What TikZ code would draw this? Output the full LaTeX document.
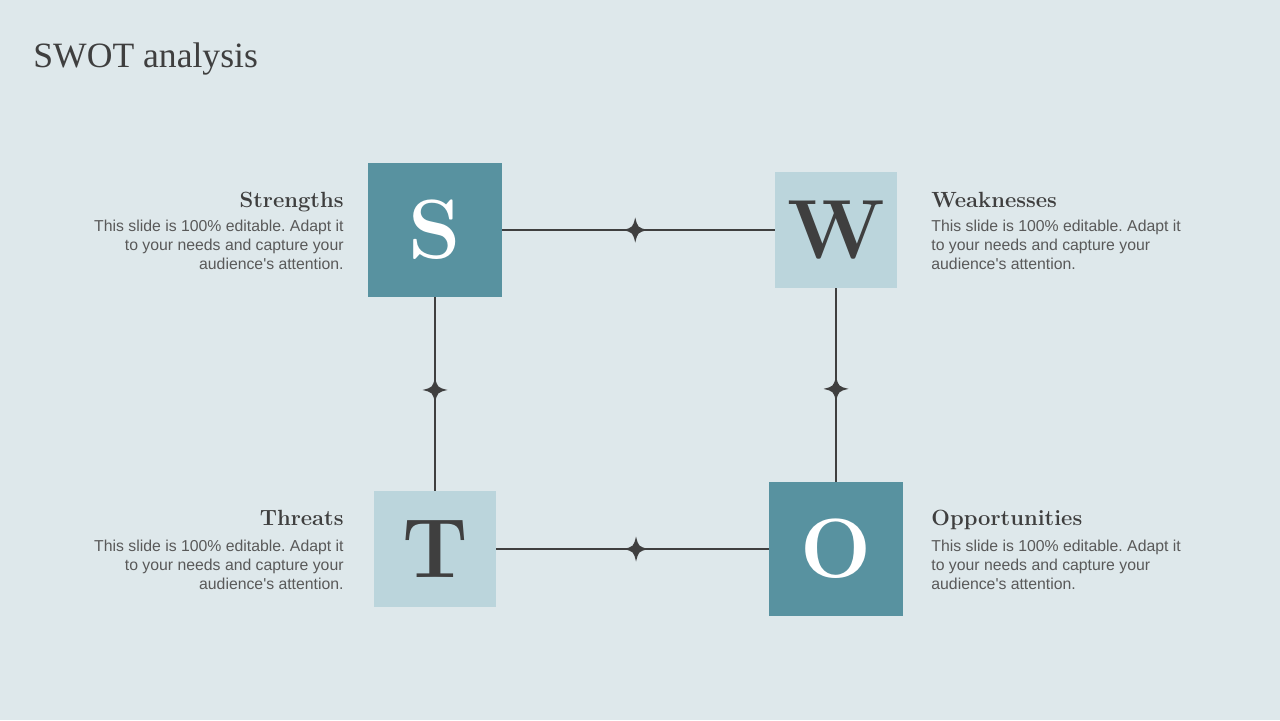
\documentclass[tikz,border=0pt]{standalone}
\usepackage{fontspec}
\setsansfont{Liberation Sans}
\newfontfamily\titlefont{Liberation Serif}
\definecolor{bgc}{HTML}{DEE8EB}
\definecolor{darkbox}{HTML}{5892A0}
\definecolor{lightbox}{HTML}{BBD5DC}
\definecolor{ink}{HTML}{3F3F3F}
\definecolor{bodyc}{HTML}{595959}
\newcommand\swotbody{This slide is 100\% editable. Adapt it\\to your needs and capture your\\audience\textquotesingle s attention.}
\tikzset{
  boxdark/.style={fill=darkbox, draw=none, inner sep=0pt, minimum width=67pt, minimum height=67pt, text=white, font=\fontsize{42}{42}\selectfont\bfseries},
  boxlight/.style={fill=lightbox, draw=none, inner sep=0pt, minimum width=61pt, minimum height=58pt, text=ink, font=\fontsize{42}{42}\selectfont\bfseries},
  conn/.style={draw=ink, line width=0.6pt},
  headR/.style={anchor=base east, inner sep=0pt, text=ink, font=\fontsize{11}{12}\selectfont\bfseries},
  headL/.style={anchor=base west, inner sep=0pt, text=ink, font=\fontsize{11}{12}\selectfont\bfseries},
  bodyR/.style={anchor=north east, inner sep=0pt, align=right, text=bodyc, font=\sffamily\frenchspacing\fontsize{7.9}{9.5}\selectfont},
  bodyL/.style={anchor=north west, inner sep=0pt, align=left, text=bodyc, font=\sffamily\frenchspacing\fontsize{7.9}{9.5}\selectfont},
  sparkle/.pic={
    \fill[ink] (0,-12.5) .. controls (2.5,-2.5) .. (12.5,0)
                       .. controls (2.5,2.5) .. (0,12.5)
                       .. controls (-2.5,2.5) .. (-12.5,0)
                       .. controls (-2.5,-2.5) .. cycle;
  }
}
\begin{document}
\begin{tikzpicture}[x=0.5pt,y=-0.5pt]
\fill[bgc] (0,0) rectangle (1280,720);
\useasboundingbox (0,0) rectangle (1280,720);

\node[anchor=base west, inner sep=0pt, text=ink, font=\titlefont\fontsize{17.8}{18}\selectfont] (title) at (33,67) {SWOT analysis};

% boxes
\node[boxdark]  (S) at (435,230) {S};
\node[boxlight] (W) at (836,230) {W};
\node[boxlight] (T) at (435,549) {T};
\node[boxdark]  (O) at (836,549) {O};

% connectors
\draw[conn] (S.east) -- (W.west) coordinate[pos=0.488] (m1);
\draw[conn] (S.south) -- (T.north) coordinate[pos=0.479] (m2);
\draw[conn] (W.south) -- (O.north) coordinate[pos=0.52] (m3);
\draw[conn] (T.east) -- (O.west) coordinate[pos=0.513] (m4);
\pic at (m1) {sparkle};
\pic at (m2) {sparkle};
\pic at (m3) {sparkle};
\pic at (m4) {sparkle};

% texts
\node[headR] (hS) at (344,207) {Strengths};
\node[bodyR] (bS) at (344,220) {\swotbody};
\node[headL] (hW) at (931,207) {Weaknesses};
\node[bodyL] (bW) at (931,220) {\swotbody};
\node[headR] (hT) at (344,525) {Threats};
\node[bodyR] (bT) at (344,540) {\swotbody};
\node[headL] (hO) at (931,525) {Opportunities};
\node[bodyL] (bO) at (931,540) {\swotbody};
\end{tikzpicture}
\end{document}
